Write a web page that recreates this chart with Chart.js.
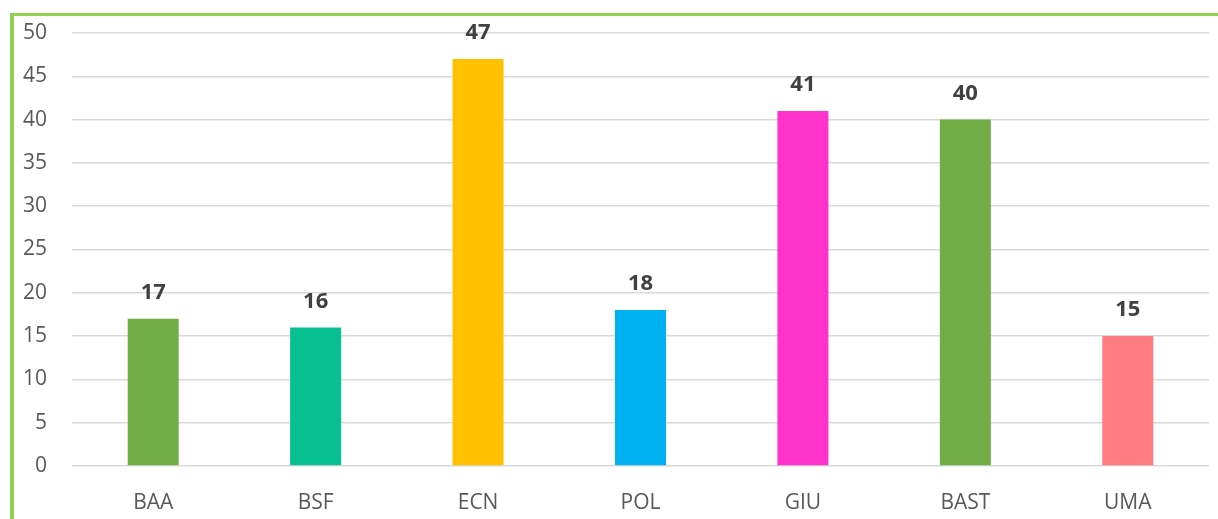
<!DOCTYPE html>
<html>
<head>
<meta charset="utf-8">
<script src="https://cdn.jsdelivr.net/npm/chart.js@4"></script>
<style>
html,body{margin:0;padding:0;background:#fff;}
#wrap{position:absolute;left:0;top:0;width:1218px;height:519px;}
</style>
</head>
<body>
<div id="wrap"><canvas id="c" width="1218" height="519"></canvas></div>
<script>
const categories = ["BAA","BSF","ECN","POL","GIU","BAST","UMA"];
const values = [17,16,47,18,41,40,15];
const barColors = ["#70ad47","#08bf91","#ffc000","#00b0f0","#ff33cc","#70ad47","#ff7c80"];
const yTicks = [0,5,10,15,20,25,30,35,40,45,50];

const frame = {
  id:'frame',
  beforeDraw(chart){
    const ctx = chart.ctx;
    ctx.save();
    ctx.fillStyle = '#92d050';
    ctx.fillRect(10,13,1208,3);
    ctx.fillRect(10,13,4,506);
    ctx.restore();
  }
};
const labels = {
  id:'labels',
  afterDatasetsDraw(chart){
    const ctx = chart.ctx;
    const meta = chart.getDatasetMeta(0);
    ctx.save();
    ctx.font = 'bold 22px "Open Sans", sans-serif';
    ctx.fillStyle = '#404040';
    ctx.textAlign = 'center';
    ctx.textBaseline = 'middle';
    meta.data.forEach((bar,i)=>{
      ctx.fillText(String(values[i]), bar.x, bar.y - 26);
    });
    ctx.restore();
  }
};

new Chart(document.getElementById('c'), {
  type:'bar',
  data:{labels:categories, datasets:[{data:values, backgroundColor:barColors, barPercentage:0.314, categoryPercentage:1}]},
  options:{
    responsive:false, animation:false,
    layout:{padding:{top:33,right:9,left:0,bottom:0}},
    plugins:{legend:{display:false}, tooltip:{enabled:false}},
    scales:{
      x:{
        grid:{display:false, drawTicks:false},
        border:{display:false},
        ticks:{color:'#595959', font:{family:'"Open Sans", sans-serif', size:21}, padding:24},
        afterFit(s){ s.height = 53; }
      },
      y:{
        min:0,max:50,
        afterBuildTicks(s){ s.ticks = yTicks.map(v=>({value:v})); },
        grid:{color:'#d9d9d9', lineWidth:1.5, drawTicks:false},
        border:{display:false},
        ticks:{color:'#595959', font:{family:'"Open Sans", sans-serif', size:21}, padding:25},
        afterFit(s){ s.width = 72; s.paddingTop = 0; s.paddingBottom = 0; }
      }
    }
  },
  plugins:[frame, labels]
});
</script>
</body>
</html>
